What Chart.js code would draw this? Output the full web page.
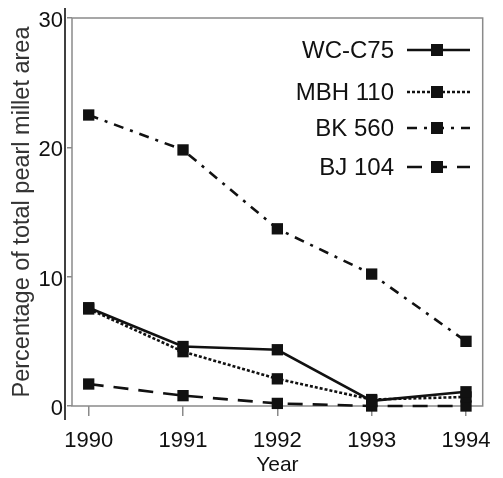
<!DOCTYPE html>
<html>
<head>
<meta charset="utf-8">
<script src="https://cdn.jsdelivr.net/npm/chart.js@4/dist/chart.umd.min.js"></script>
<style>
  html, body { margin: 0; padding: 0; background: #fff; }
  canvas { display: block; }
</style>
</head>
<body>
<canvas id="c" width="503" height="478"></canvas>
<script>
// Share of total pearl millet area by cultivar, 1990-1994
const years = [1990, 1991, 1992, 1993, 1994];
const yTicks = [0, 10, 20, 30];
const seriesNames = ['WC-C75', 'MBH 110', 'BK 560', 'BJ 104'];
const wcC75 = [7.6, 4.6, 4.35, 0.4, 1.1];
const mbh110 = [7.5, 4.2, 2.1, 0.5, 0.7];
const bk560 = [22.5, 19.8, 13.7, 10.2, 5.0];
const bj104 = [1.7, 0.8, 0.2, 0.0, 0.0];

const FONT = '"Liberation Sans", Arial, Helvetica, sans-serif';
const INK = '#111';
const FRAME = '#8a8a8a';

const styles = [
  { dash: [] },
  { dash: [3, 2] },
  { dash: [10, 7, 3, 7] },
  { dash: [15, 10] }
];

const seriesValues = [wcC75, mbh110, bk560, bj104];

const datasets = seriesNames.map((name, i) => ({
  label: name,
  data: years.map((yr, j) => ({ x: yr, y: seriesValues[i][j] })),
  borderColor: INK,
  backgroundColor: INK,
  borderWidth: 2.6,
  borderDash: styles[i].dash,
  pointStyle: 'rect',
  pointRadius: 8,
  pointHoverRadius: 8,
  pointBorderWidth: 0,
  tension: 0,
  clip: false
}));

// Frame around the plot, the detached left rule, and the inset legend
const decorations = {
  id: 'decorations',
  beforeDatasetsDraw(chart) {
    const { ctx, chartArea: a } = chart;
    ctx.save();
    ctx.strokeStyle = FRAME;
    ctx.lineWidth = 1.5;
    ctx.strokeRect(a.left, a.top, a.right - a.left, a.bottom - a.top);
    ctx.strokeStyle = '#000';
    ctx.lineWidth = 1.5;
    ctx.beginPath();
    ctx.moveTo(a.left - 7, a.top - 10);
    ctx.lineTo(a.left - 7, a.bottom + 14);
    ctx.stroke();
    ctx.restore();
  },
  afterDatasetsDraw(chart) {
    const { ctx } = chart;
    const rowsY = [50, 92, 128, 167];
    const textRight = 394, lineL = 407, lineR = 470, markX = 437;
    ctx.save();
    chart.data.datasets.forEach((ds, i) => {
      const y = rowsY[i];
      ctx.font = '24px ' + FONT;
      ctx.fillStyle = INK;
      ctx.textAlign = 'right';
      ctx.textBaseline = 'middle';
      ctx.fillText(ds.label, textRight, y + 1);
      ctx.strokeStyle = ds.borderColor;
      ctx.lineWidth = ds.borderWidth;
      ctx.setLineDash(ds.borderDash);
      ctx.beginPath();
      ctx.moveTo(lineL, y);
      ctx.lineTo(lineR, y);
      ctx.stroke();
      ctx.setLineDash([]);
      ctx.fillStyle = ds.backgroundColor;
      ctx.fillRect(markX - 6, y - 6, 12, 12);
    });
    ctx.restore();
  }
};

new Chart(document.getElementById('c'), {
  type: 'line',
  data: { datasets },
  plugins: [decorations],
  options: {
    responsive: false,
    animation: false,
    layout: { padding: { top: 18, right: 13, left: 0, bottom: 0 } },
    plugins: {
      legend: { display: false },
      tooltip: { enabled: false }
    },
    scales: {
      x: {
        type: 'linear',
        min: years[0] - 0.177,
        max: years[years.length - 1] + 0.177,
        afterBuildTicks(scale) { scale.ticks = years.map(v => ({ value: v })); },
        afterFit(scale) { scale.height = 72; },
        border: { display: false },
        grid: { display: true, drawOnChartArea: false, tickLength: 10, color: FRAME, lineWidth: 1.5 },
        ticks: {
          color: INK,
          font: { family: FONT, size: 22 },
          padding: 12,
          maxRotation: 0,
          callback: v => String(v)
        },
        title: {
          display: true,
          text: 'Year',
          color: INK,
          font: { family: FONT, size: 21 },
          padding: { top: 0, bottom: 0 }
        }
      },
      y: {
        min: 0,
        max: 30,
        afterBuildTicks(scale) { scale.ticks = yTicks.map(v => ({ value: v })); },
        afterFit(scale) { scale.width = 72; },
        border: { display: false },
        grid: { display: true, drawOnChartArea: false, tickLength: 5, color: FRAME, lineWidth: 1.5 },
        ticks: {
          color: INK,
          font: { family: FONT, size: 22 },
          padding: 4,
          labelOffset: 3
        },
        title: {
          display: true,
          text: 'Percentage of total pearl millet area',
          color: '#333',
          font: { family: FONT, size: 23.5 },
          padding: { top: 8, bottom: 0 }
        }
      }
    }
  }
});
</script>
</body>
</html>
